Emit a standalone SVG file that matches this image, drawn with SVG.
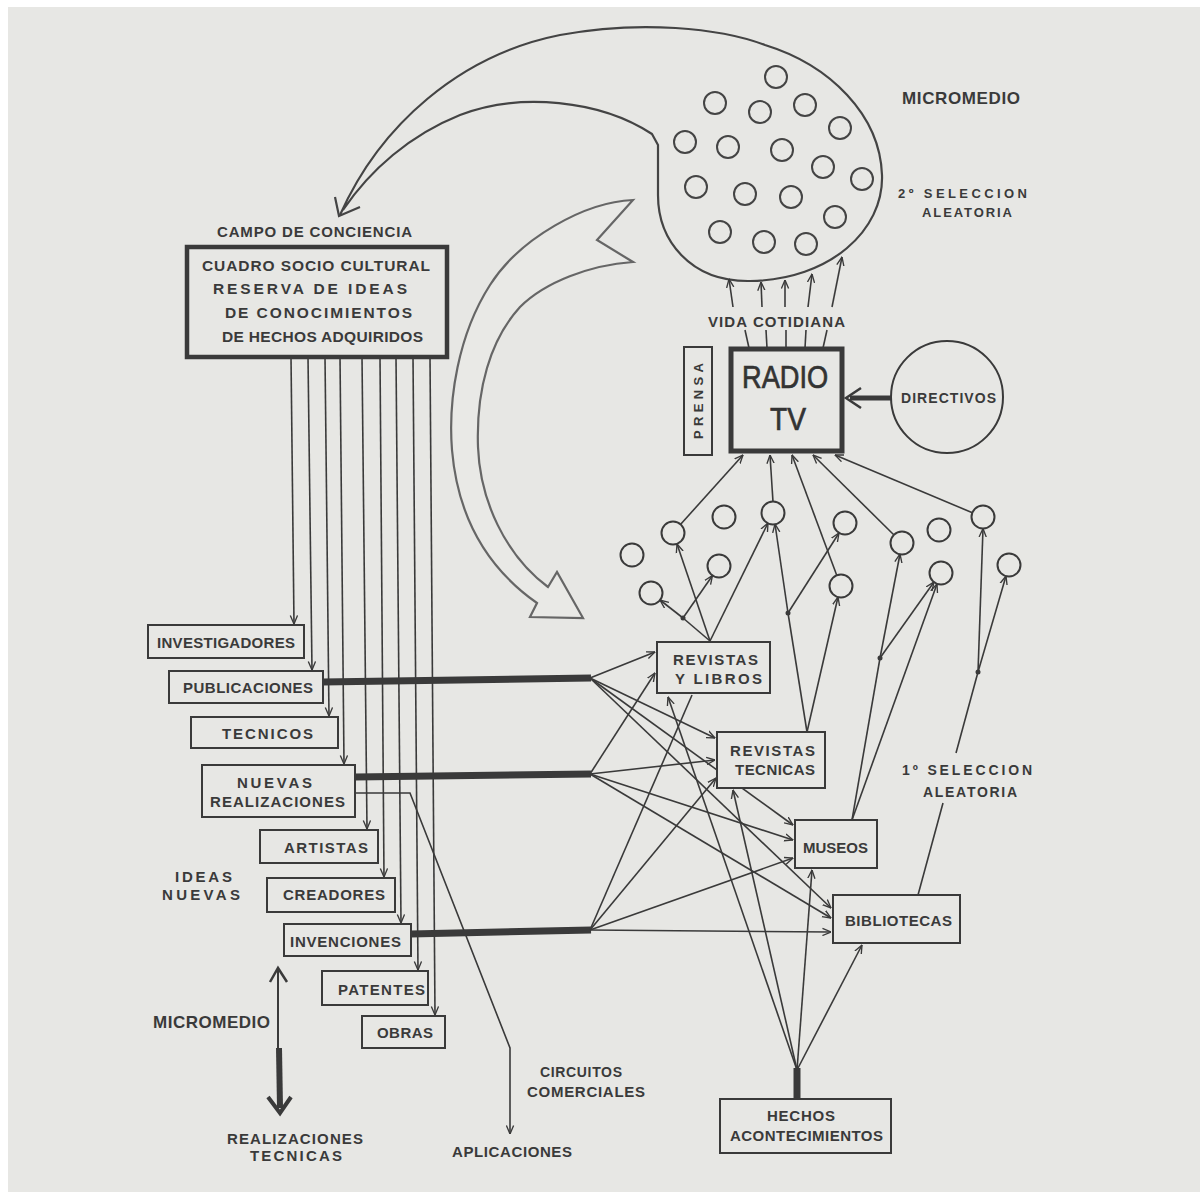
<svg xmlns="http://www.w3.org/2000/svg" width="1200" height="1192" viewBox="0 0 1200 1192">
<defs>
<style>
.t{font-family:"Liberation Sans",Arial,sans-serif;font-weight:bold;fill:#3a3a3a}
.box{fill:#e7e7e4;stroke:#3a3a3a;stroke-width:2}
.ln{fill:none;stroke:#3a3a3a;stroke-width:1.6}
.thk{fill:none;stroke:#3a3a3a;stroke-width:7}
.c{fill:#e7e7e4;stroke:#3a3a3a;stroke-width:2}
.dot{fill:#3a3a3a}
</style>
<marker id="ah" viewBox="0 0 10 10" refX="9.5" refY="5" markerWidth="9" markerHeight="9" markerUnits="userSpaceOnUse" orient="auto">
<path d="M0,1 L9.5,5 L0,9" fill="none" stroke="#3a3a3a" stroke-width="1.5"/>
</marker>
</defs>
<rect x="0" y="0" width="1200" height="1192" fill="#ffffff"/>
<rect x="8" y="7" width="1192" height="1185" fill="#e7e7e4"/>

<!-- top balloon / micromedio -->
<g id="micromedio-top">
<path d="M340,215 C380,125 460,55 560,35 C640,20 720,28 765,45 C830,65 880,115 882,175 C884,230 830,280 750,281 C690,282 658,240 658,195 L658,145 L652,134 C600,100 520,92 460,115 C410,135 370,170 343,210" fill="none" stroke="#444" stroke-width="2.2"/>
<path d="M335,197 L339,216 L360,207" fill="none" stroke="#444" stroke-width="2.2"/>
<g fill="none" stroke="#444" stroke-width="2">
<circle cx="776" cy="77" r="11"/><circle cx="715" cy="103" r="11"/><circle cx="760" cy="112" r="11"/>
<circle cx="805" cy="105" r="11"/><circle cx="840" cy="128" r="11"/><circle cx="685" cy="142" r="11"/>
<circle cx="728" cy="147" r="11"/><circle cx="782" cy="150" r="11"/><circle cx="823" cy="167" r="11"/>
<circle cx="862" cy="179" r="11"/><circle cx="696" cy="187" r="11"/><circle cx="745" cy="194" r="11"/>
<circle cx="791" cy="197" r="11"/><circle cx="835" cy="217" r="11"/><circle cx="720" cy="232" r="11"/>
<circle cx="764" cy="242" r="11"/><circle cx="806" cy="244" r="11"/>
</g>
<text class="t" x="902" y="104" style="font-size:17px" textLength="118" lengthAdjust="spacing">MICROMEDIO</text>
<text class="t" x="898" y="198" style="font-size:13px" textLength="129" lengthAdjust="spacing">2º  SELECCION</text>
<text class="t" x="922" y="217" style="font-size:13px" textLength="90" lengthAdjust="spacing">ALEATORIA</text>
</g>

<!-- hollow curved arrow -->
<g id="big-arrow">
<path d="M633,200 C585,202 520,238 490,285 C458,335 448,400 452,450 C458,520 490,570 537,603 L530,617 L583,618 L557,572 L548,587 C505,555 480,500 478,447 C476,390 490,340 520,307 C545,282 590,265 633,262 L597,240 Z" fill="#e9e9e6" stroke="#666" stroke-width="2.2"/>
</g>

<g id="connectors">
<!-- vida cotidiana -->
<line class="ln" x1="749" y1="348" x2="745" y2="330"/>
<line class="ln" x1="767" y1="348" x2="766" y2="330"/>
<line class="ln" x1="786" y1="348" x2="786" y2="330"/>
<line class="ln" x1="805" y1="348" x2="806" y2="330"/>
<line class="ln" x1="823" y1="348" x2="827" y2="330"/>
<line class="ln" x1="733" y1="307" x2="729" y2="279" marker-end="url(#ah)"/>
<line class="ln" x1="762" y1="307" x2="761" y2="282" marker-end="url(#ah)"/>
<line class="ln" x1="785" y1="307" x2="785" y2="280" marker-end="url(#ah)"/>
<line class="ln" x1="808" y1="307" x2="812" y2="274" marker-end="url(#ah)"/>
<line class="ln" x1="832" y1="307" x2="842" y2="257" marker-end="url(#ah)"/>

<!-- vertical lines from cuadro -->
<line class="ln" x1="291" y1="357" x2="294" y2="624" marker-end="url(#ah)"/>
<line class="ln" x1="308" y1="357" x2="312" y2="670" marker-end="url(#ah)"/>
<line class="ln" x1="325" y1="357" x2="329" y2="716" marker-end="url(#ah)"/>
<line class="ln" x1="340" y1="357" x2="344" y2="764" marker-end="url(#ah)"/>
<line class="ln" x1="362" y1="357" x2="367" y2="829" marker-end="url(#ah)"/>
<line class="ln" x1="380" y1="357" x2="384" y2="877" marker-end="url(#ah)"/>
<line class="ln" x1="396" y1="357" x2="401" y2="923" marker-end="url(#ah)"/>
<line class="ln" x1="413" y1="357" x2="418" y2="970" marker-end="url(#ah)"/>
<line class="ln" x1="430" y1="357" x2="435" y2="1015" marker-end="url(#ah)"/>

<!-- nuevas realizaciones -> aplicaciones -->
<path class="ln" d="M355,793 L410,793 L510,1048 L510,1134" marker-end="url(#ah)"/>

<!-- thick hubs -->
<line class="thk" x1="323" y1="682" x2="591" y2="678"/>
<line class="thk" x1="355" y1="777" x2="591" y2="774"/>
<line class="thk" x1="411" y1="934" x2="591" y2="930" stroke-width="6"/>

<!-- hub A -->
<line class="ln" x1="590" y1="678" x2="655" y2="652" marker-end="url(#ah)"/>
<line class="ln" x1="590" y1="678" x2="715" y2="738" marker-end="url(#ah)"/>
<line class="ln" x1="590" y1="678" x2="793" y2="825" marker-end="url(#ah)"/>
<line class="ln" x1="590" y1="678" x2="831" y2="908" marker-end="url(#ah)"/>
<!-- hub B -->
<line class="ln" x1="590" y1="774" x2="655" y2="673" marker-end="url(#ah)"/>
<line class="ln" x1="590" y1="774" x2="715" y2="760" marker-end="url(#ah)"/>
<line class="ln" x1="590" y1="774" x2="793" y2="840" marker-end="url(#ah)"/>
<line class="ln" x1="590" y1="774" x2="831" y2="918" marker-end="url(#ah)"/>
<!-- hub C -->
<line class="ln" x1="590" y1="930" x2="692" y2="695"/>
<line class="ln" x1="590" y1="930" x2="716" y2="778" marker-end="url(#ah)"/>
<line class="ln" x1="590" y1="930" x2="793" y2="858" marker-end="url(#ah)"/>
<line class="ln" x1="590" y1="930" x2="831" y2="932" marker-end="url(#ah)"/>
<!-- hechos hub -->
<line class="thk" x1="797" y1="1099" x2="797" y2="1068" stroke-width="6"/>
<line class="ln" x1="797" y1="1070" x2="668" y2="697" marker-end="url(#ah)"/>
<line class="ln" x1="797" y1="1070" x2="733" y2="790" marker-end="url(#ah)"/>
<line class="ln" x1="797" y1="1070" x2="812" y2="870" marker-end="url(#ah)"/>
<line class="ln" x1="797" y1="1070" x2="862" y2="945" marker-end="url(#ah)"/>

<!-- upper network -->
<line class="ln" x1="710" y1="641" x2="677" y2="544" marker-end="url(#ah)"/>
<line class="ln" x1="710" y1="641" x2="768" y2="523" marker-end="url(#ah)"/>
<line class="ln" x1="710" y1="641" x2="683" y2="618"/>
<line class="ln" x1="683" y1="618" x2="660" y2="600" marker-end="url(#ah)"/>
<line class="ln" x1="683" y1="618" x2="712.5" y2="575.5" marker-end="url(#ah)"/>
<line class="ln" x1="807" y1="732" x2="788" y2="613"/>
<line class="ln" x1="788" y1="613" x2="775" y2="524" marker-end="url(#ah)"/>
<line class="ln" x1="788" y1="613" x2="839" y2="533" marker-end="url(#ah)"/>
<line class="ln" x1="807" y1="732" x2="838" y2="597" marker-end="url(#ah)"/>
<line class="ln" x1="852" y1="820" x2="880" y2="658"/>
<line class="ln" x1="880" y1="658" x2="900" y2="554" marker-end="url(#ah)"/>
<line class="ln" x1="880" y1="658" x2="934" y2="582" marker-end="url(#ah)"/>
<line class="ln" x1="852" y1="820" x2="937" y2="584" marker-end="url(#ah)"/>
<line class="ln" x1="918" y1="895" x2="943" y2="803"/>
<line class="ln" x1="956" y1="753" x2="978" y2="672"/>
<line class="ln" x1="978" y1="672" x2="983" y2="528.5" marker-end="url(#ah)"/>
<line class="ln" x1="978" y1="672" x2="1006" y2="576" marker-end="url(#ah)"/>
<circle class="dot" cx="683" cy="618" r="2.5"/>
<circle class="dot" cx="788" cy="613" r="2.5"/>
<circle class="dot" cx="880" cy="658" r="2.5"/>
<circle class="dot" cx="978" cy="672" r="2.5"/>

<!-- circles to radio -->
<line class="ln" x1="680" y1="525" x2="743" y2="455" marker-end="url(#ah)"/>
<line class="ln" x1="773" y1="502" x2="770" y2="455" marker-end="url(#ah)"/>
<line class="ln" x1="837" y1="576" x2="792" y2="455" marker-end="url(#ah)"/>
<line class="ln" x1="894" y1="535" x2="813" y2="455" marker-end="url(#ah)"/>
<line class="ln" x1="973" y1="513" x2="835" y2="455" marker-end="url(#ah)"/>

<!-- directivos -> radio -->
<line x1="892" y1="398" x2="850" y2="398" stroke="#3a3a3a" stroke-width="5"/>
<path d="M861,388 L846,398 L861,408" fill="none" stroke="#3a3a3a" stroke-width="2.5"/>

<!-- micromedio vertical arrow -->
<line x1="278" y1="970" x2="278" y2="1050" stroke="#3a3a3a" stroke-width="2"/>
<path d="M270,982 L278,968 L287,982" fill="none" stroke="#3a3a3a" stroke-width="2.5"/>
<line x1="279" y1="1048" x2="280" y2="1108" stroke="#3a3a3a" stroke-width="6"/>
<path d="M268,1097 L280,1113 L291,1097" fill="none" stroke="#3a3a3a" stroke-width="4"/>
</g>

<!-- nodes -->
<g id="campo">
<text class="t" x="217" y="237" style="font-size:15px" textLength="195" lengthAdjust="spacing">CAMPO DE CONCIENCIA</text>
</g>
<g id="cuadro">
<rect x="187" y="247" width="260" height="110" fill="#e7e7e4" stroke="#3a3a3a" stroke-width="4.5"/>
<text class="t" x="202" y="271" style="font-size:15.5px" textLength="228" lengthAdjust="spacing">CUADRO SOCIO CULTURAL</text>
<text class="t" x="213" y="294" style="font-size:15.5px" textLength="194" lengthAdjust="spacing">RESERVA  DE  IDEAS</text>
<text class="t" x="225" y="318" style="font-size:15.5px" textLength="187" lengthAdjust="spacing">DE  CONOCIMIENTOS</text>
<text class="t" x="222" y="342" style="font-size:15.5px" textLength="201" lengthAdjust="spacing">DE HECHOS ADQUIRIDOS</text>
</g>
<g id="vida">
<text class="t" x="708" y="327" style="font-size:15px" textLength="137" lengthAdjust="spacing">VIDA COTIDIANA</text>
</g>
<g id="radio">
<rect x="731" y="349" width="111" height="102" fill="#e7e7e4" stroke="#3a3a3a" stroke-width="5"/>
<text transform="translate(742,388) scale(0.85,1)" font-family="Liberation Sans,Arial,sans-serif" font-size="32" fill="#333" stroke="#333" stroke-width="0.7">RADIO</text>
<text transform="translate(770,430) scale(0.88,1)" font-family="Liberation Sans,Arial,sans-serif" font-size="32" fill="#333" stroke="#333" stroke-width="0.7">TV</text>
</g>
<g id="prensa">
<rect class="box" x="684" y="347" width="28" height="108"/>
<text class="t" style="font-size:13px" transform="translate(703,439) rotate(-90)" textLength="76" lengthAdjust="spacing">PRENSA</text>
</g>
<g id="directivos">
<circle cx="947" cy="397" r="56" fill="none" stroke="#3a3a3a" stroke-width="2"/>
<text class="t" x="901" y="403" style="font-size:14px" textLength="95" lengthAdjust="spacing">DIRECTIVOS</text>
</g>
<g id="small-circles">
<circle class="c" cx="632" cy="555" r="11.5"/><circle class="c" cx="673" cy="533" r="11.5"/>
<circle class="c" cx="724" cy="517" r="11.5"/><circle class="c" cx="651" cy="593" r="11.5"/>
<circle class="c" cx="719" cy="566" r="11.5"/><circle class="c" cx="773" cy="513" r="11.5"/>
<circle class="c" cx="845" cy="523" r="11.5"/><circle class="c" cx="841" cy="586" r="11.5"/>
<circle class="c" cx="902" cy="543" r="11.5"/><circle class="c" cx="939" cy="530" r="11.5"/>
<circle class="c" cx="941" cy="573" r="11.5"/><circle class="c" cx="983" cy="517" r="11.5"/>
<circle class="c" cx="1009" cy="565" r="11.5"/>
</g>
<g id="investigadores"><rect class="box" x="148" y="625" width="156" height="33"/>
<text class="t" x="157" y="648" style="font-size:15px" textLength="138" lengthAdjust="spacing">INVESTIGADORES</text></g>
<g id="publicaciones"><rect class="box" x="169" y="671" width="154" height="32"/>
<text class="t" x="183" y="693" style="font-size:15px" textLength="130" lengthAdjust="spacing">PUBLICACIONES</text></g>
<g id="tecnicos"><rect class="box" x="191" y="717" width="147" height="31"/>
<text class="t" x="222" y="739" style="font-size:15px" textLength="91" lengthAdjust="spacing">TECNICOS</text></g>
<g id="nuevas-realizaciones"><rect class="box" x="202" y="765" width="153" height="52"/>
<text class="t" x="237" y="788" style="font-size:15px" textLength="75" lengthAdjust="spacing">NUEVAS</text>
<text class="t" x="210" y="807" style="font-size:15px" textLength="135" lengthAdjust="spacing">REALIZACIONES</text></g>
<g id="artistas"><rect class="box" x="260" y="830" width="118" height="33"/>
<text class="t" x="284" y="853" style="font-size:15px" textLength="84" lengthAdjust="spacing">ARTISTAS</text></g>
<g id="creadores"><rect class="box" x="267" y="878" width="128" height="34"/>
<text class="t" x="283" y="900" style="font-size:15px" textLength="102" lengthAdjust="spacing">CREADORES</text></g>
<g id="invenciones"><rect class="box" x="284" y="924" width="127" height="32"/>
<text class="t" x="290" y="947" style="font-size:15px" textLength="111" lengthAdjust="spacing">INVENCIONES</text></g>
<g id="patentes"><rect class="box" x="322" y="971" width="106" height="34"/>
<text class="t" x="338" y="995" style="font-size:15px" textLength="87" lengthAdjust="spacing">PATENTES</text></g>
<g id="obras"><rect class="box" x="362" y="1016" width="83" height="32"/>
<text class="t" x="377" y="1038" style="font-size:15px" textLength="56" lengthAdjust="spacing">OBRAS</text></g>
<g id="ideas-nuevas">
<text class="t" x="175" y="882" style="font-size:15px" textLength="57" lengthAdjust="spacing">IDEAS</text>
<text class="t" x="162" y="900" style="font-size:15px" textLength="78" lengthAdjust="spacing">NUEVAS</text>
</g>
<g id="micromedio-bottom">
<text class="t" x="153" y="1028" style="font-size:17px" textLength="117" lengthAdjust="spacing">MICROMEDIO</text>
</g>
<g id="realizaciones-tecnicas">
<text class="t" x="227" y="1144" style="font-size:15px" textLength="136" lengthAdjust="spacing">REALIZACIONES</text>
<text class="t" x="250" y="1161" style="font-size:15px" textLength="92" lengthAdjust="spacing">TECNICAS</text>
</g>
<g id="circuitos">
<text class="t" x="540" y="1077" style="font-size:14px" textLength="82" lengthAdjust="spacing">CIRCUITOS</text>
<text class="t" x="527" y="1097" style="font-size:15px" textLength="118" lengthAdjust="spacing">COMERCIALES</text>
</g>
<g id="aplicaciones">
<text class="t" x="452" y="1157" style="font-size:15px" textLength="120" lengthAdjust="spacing">APLICACIONES</text>
</g>
<g id="revistas-libros"><rect class="box" x="657" y="642" width="113" height="51"/>
<text class="t" x="673" y="665" style="font-size:15px" textLength="85" lengthAdjust="spacing">REVISTAS</text>
<text class="t" x="675" y="684" style="font-size:15px" textLength="87" lengthAdjust="spacing">Y LIBROS</text></g>
<g id="revistas-tecnicas"><rect class="box" x="717" y="732" width="108" height="56"/>
<text class="t" x="730" y="756" style="font-size:15px" textLength="85" lengthAdjust="spacing">REVISTAS</text>
<text class="t" x="735" y="775" style="font-size:15px" textLength="80" lengthAdjust="spacing">TECNICAS</text></g>
<g id="museos"><rect class="box" x="795" y="820" width="82" height="48"/>
<text class="t" x="803" y="853" style="font-size:15px" textLength="65" lengthAdjust="spacing">MUSEOS</text></g>
<g id="bibliotecas"><rect class="box" x="833" y="895" width="127" height="48"/>
<text class="t" x="845" y="926" style="font-size:15px" textLength="107" lengthAdjust="spacing">BIBLIOTECAS</text></g>
<g id="seleccion-1">
<text class="t" x="902" y="775" style="font-size:14px" textLength="130" lengthAdjust="spacing">1º  SELECCION</text>
<text class="t" x="923" y="797" style="font-size:14px" textLength="94" lengthAdjust="spacing">ALEATORIA</text>
</g>
<g id="hechos"><rect class="box" x="720" y="1099" width="171" height="54"/>
<text class="t" x="767" y="1121" style="font-size:15px" textLength="68" lengthAdjust="spacing">HECHOS</text>
<text class="t" x="730" y="1141" style="font-size:15px" textLength="153" lengthAdjust="spacing">ACONTECIMIENTOS</text></g>
</svg>
